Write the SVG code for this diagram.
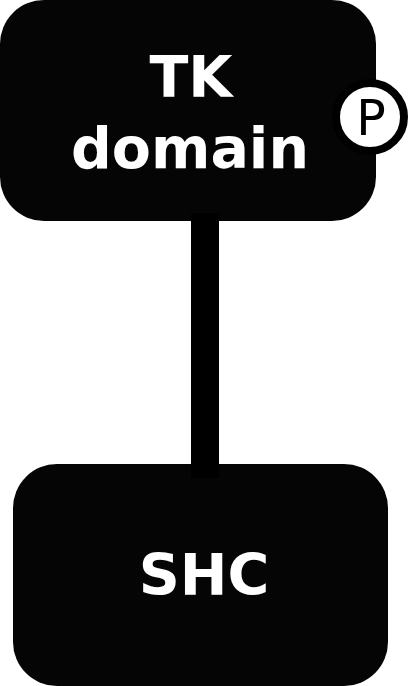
<svg xmlns="http://www.w3.org/2000/svg" width="408" height="686" viewBox="0 0 408 686">
<style>
.node{fill:#050505;}
.lbl{font-family:"DejaVu Sans",Verdana,sans-serif;font-weight:bold;font-size:57px;fill:#fff;text-anchor:middle;}
.edge{stroke:#000;stroke-width:28;fill:none;}
.badge{fill:#fff;stroke:#000;stroke-width:8;}
.badgetxt{font-family:"DejaVu Sans",sans-serif;font-size:49px;fill:#000;text-anchor:middle;}
</style>
<rect width="408" height="686" fill="#fff"/>
<g id="node-tk">
<rect class="node" x="0" y="0" width="376" height="221" rx="44" ry="44"/>
<text class="lbl" x="191" y="97">TK</text>
<text class="lbl" x="190" y="168">domain</text>
<circle class="badge" cx="370" cy="117" r="34"/>
<text class="badgetxt" x="371" y="135">P</text>
</g>
<g id="node-shc">
<rect class="node" x="13" y="464" width="375" height="222" rx="44" ry="44"/>
<text class="lbl" x="204" y="595">SHC</text>
</g>
<g id="connectors">
<line class="edge" x1="205" y1="213" x2="205" y2="478"/>
</g>
</svg>
